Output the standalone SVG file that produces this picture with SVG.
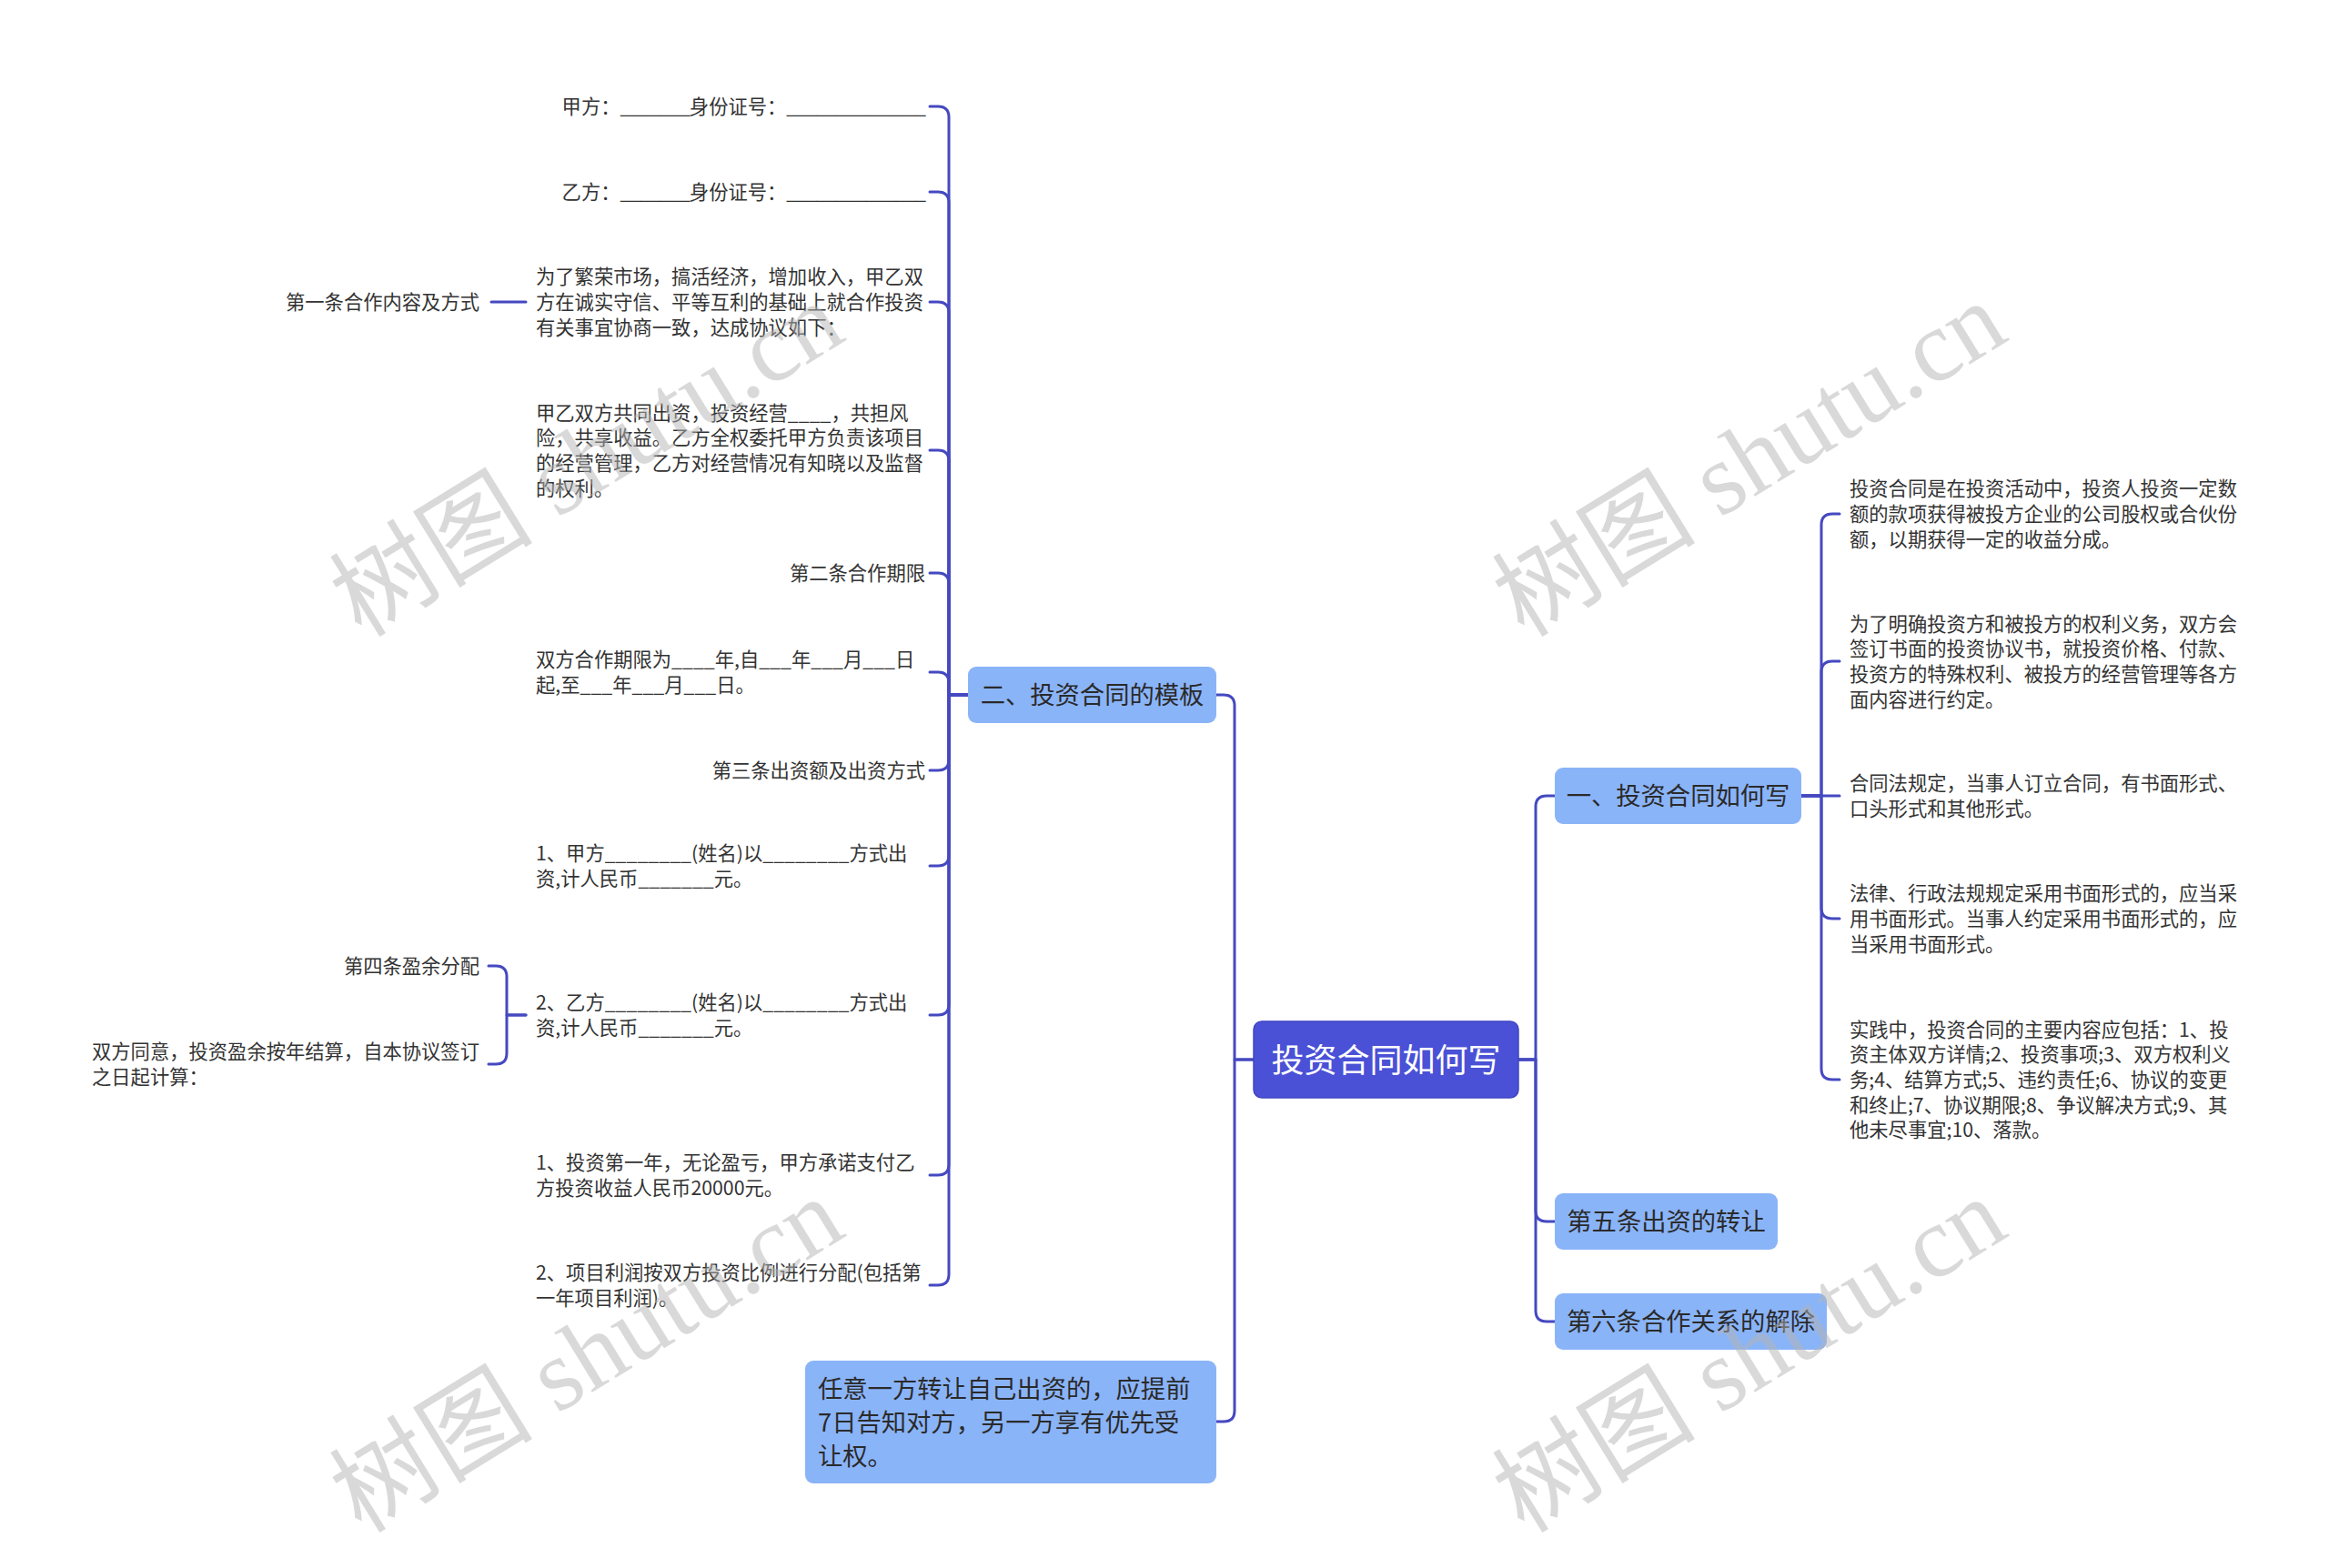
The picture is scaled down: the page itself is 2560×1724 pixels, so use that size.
<svg xmlns="http://www.w3.org/2000/svg" width="2560" height="1724" viewBox="0 0 2560 1724">
<style>
.leaf{font-family:'Noto Sans CJK SC','Liberation Sans',sans-serif;font-size:21.3px;fill:#333}
.mid{font-family:'Noto Sans CJK SC','Liberation Sans',sans-serif;font-size:27.3px;fill:#2a2a2a}
.root{font-family:'Noto Sans CJK SC','Liberation Sans',sans-serif;font-size:36px;fill:#fff}
.box{fill:#8AB4F8}
.rootbox{fill:#4A51D6;stroke:#3F45C2;stroke-width:1.5}
.conn path{fill:none;stroke:#4549C0;stroke-width:3;stroke-linecap:round;stroke-linejoin:round}
.wm{font-family:'Liberation Serif','Noto Sans CJK SC',serif;font-size:112px;fill:#b4b4b4;opacity:0.5}
.e{text-anchor:end}
.m{text-anchor:middle}
.u{letter-spacing:-1px}
</style>
<rect width="2560" height="1724" fill="#fff"/>

<g id="connectors" class="conn">
<path d="M1064 764 H1043 V129 Q1043 117 1031 117 H1022"/>
<path d="M1064 764 H1043 V223 Q1043 211 1031 211 H1022"/>
<path d="M1064 764 H1043 V344 Q1043 332 1031 332 H1022"/>
<path d="M1064 764 H1043 V507 Q1043 495 1031 495 H1022"/>
<path d="M1064 764 H1043 V642 Q1043 630 1031 630 H1022"/>
<path d="M1064 764 H1043 V751 Q1043 739 1031 739 H1022"/>
<path d="M1064 764 H1043 V835 Q1043 847 1031 847 H1022"/>
<path d="M1064 764 H1043 V940 Q1043 952 1031 952 H1022"/>
<path d="M1064 764 H1043 V1104 Q1043 1116 1031 1116 H1022"/>
<path d="M1064 764 H1043 V1280 Q1043 1292 1031 1292 H1022"/>
<path d="M1064 764 H1043 V1401 Q1043 1413 1031 1413 H1022"/>
<path d="M1378 1165 H1357 V776 Q1357 764 1345 764 H1337"/>
<path d="M1378 1165 H1357 V1551 Q1357 1563 1345 1563 H1337"/>
<path d="M1669 1165 H1688 V887 Q1688 875 1700 875 H1709"/>
<path d="M1669 1165 H1688 V1331 Q1688 1343 1700 1343 H1709"/>
<path d="M1669 1165 H1688 V1441 Q1688 1453 1700 1453 H1709"/>
<path d="M1980 875 H2002 V577 Q2002 565 2014 565 H2022"/>
<path d="M1980 875 H2002 V739 Q2002 727 2014 727 H2022"/>
<path d="M1980 875 H2022"/>
<path d="M1980 875 H2002 V998 Q2002 1010 2014 1010 H2022"/>
<path d="M1980 875 H2002 V1175 Q2002 1187 2014 1187 H2022"/>
<path d="M578 1116 H557 V1074 Q557 1062 545 1062 H537"/>
<path d="M578 1116 H557 V1158 Q557 1170 545 1170 H537"/>
<path d="M578 332 H540"/>
</g>

<g id="root">
<rect class="rootbox" x="1378" y="1123" width="291" height="84" rx="9"/>
<text class="root m" x="1523.5" y="1178.5">投资合同如何写</text>
</g>

<g id="n-template">
<rect class="box" x="1064" y="733" width="273" height="62" rx="9"/>
<text class="mid m" x="1200.5" y="774.4">二、投资合同的模板</text>
</g>

<g id="n-transfer-note">
<rect class="box" x="885" y="1496" width="452" height="135" rx="9"/>
<text class="mid" x="899" y="1537.4">任意一方转让自己出资的，应提前</text>
<text class="mid" x="899" y="1574.4">7日告知对方，另一方享有优先受</text>
<text class="mid" x="899" y="1611.4">让权。</text>
</g>

<g id="n-how">
<rect class="box" x="1709" y="844" width="271" height="62" rx="9"/>
<text class="mid m" x="1844.5" y="885.4">一、投资合同如何写</text>
</g>

<g id="n-art5">
<rect class="box" x="1709" y="1312" width="245" height="62" rx="9"/>
<text class="mid m" x="1831.5" y="1353.4">第五条出资的转让</text>
</g>

<g id="n-art6">
<rect class="box" x="1709" y="1422" width="299" height="62" rx="9"/>
<text class="mid m" x="1858.5" y="1463.4">第六条合作关系的解除</text>
</g>

<g id="l-jia"><text class="leaf e" x="1017" y="125">甲方：<tspan class="u">_______</tspan>身份证号：<tspan class="u">______________</tspan></text></g>
<g id="l-yi"><text class="leaf e" x="1017" y="219">乙方：<tspan class="u">_______</tspan>身份证号：<tspan class="u">______________</tspan></text></g>
<g id="l-intro">
<text class="leaf" x="589" y="312.3">为了繁荣市场，搞活经济，增加收入，甲乙双</text>
<text class="leaf" x="589" y="340">方在诚实守信、平等互利的基础上就合作投资</text>
<text class="leaf" x="589" y="367.7">有关事宜协商一致，达成协议如下：</text>
</g>
<g id="l-art1"><text class="leaf e" x="527" y="340">第一条合作内容及方式</text></g>
<g id="l-joint">
<text class="leaf" x="589" y="461.5">甲乙双方共同出资，投资经营____，共担风</text>
<text class="leaf" x="589" y="489.2">险，共享收益。乙方全权委托甲方负责该项目</text>
<text class="leaf" x="589" y="516.9">的经营管理，乙方对经营情况有知晓以及监督</text>
<text class="leaf" x="589" y="544.6">的权利。</text>
</g>
<g id="l-art2"><text class="leaf e" x="1017" y="638">第二条合作期限</text></g>
<g id="l-term">
<text class="leaf" x="589" y="733.2">双方合作期限为____年,自___年___月___日</text>
<text class="leaf" x="589" y="760.9">起,至___年___月___日。</text>
</g>
<g id="l-art3"><text class="leaf e" x="1017" y="855">第三条出资额及出资方式</text></g>
<g id="l-pay1">
<text class="leaf" x="589" y="946.2">1、甲方________(姓名)以________方式出</text>
<text class="leaf" x="589" y="973.9">资,计人民币_______元。</text>
</g>
<g id="l-pay2">
<text class="leaf" x="589" y="1110.2">2、乙方________(姓名)以________方式出</text>
<text class="leaf" x="589" y="1137.9">资,计人民币_______元。</text>
</g>
<g id="l-art4"><text class="leaf e" x="527" y="1070">第四条盈余分配</text></g>
<g id="l-settle">
<text class="leaf" x="101" y="1164.2">双方同意，投资盈余按年结算，自本协议签订</text>
<text class="leaf" x="101" y="1191.9">之日起计算：</text>
</g>
<g id="l-first">
<text class="leaf" x="589" y="1286.2">1、投资第一年，无论盈亏，甲方承诺支付乙</text>
<text class="leaf" x="589" y="1313.9">方投资收益人民币20000元。</text>
</g>
<g id="l-profit">
<text class="leaf" x="589" y="1407.2">2、项目利润按双方投资比例进行分配(包括第</text>
<text class="leaf" x="589" y="1434.9">一年项目利润)。</text>
</g>

<g id="r-def">
<text class="leaf" x="2033" y="545.3">投资合同是在投资活动中，投资人投资一定数</text>
<text class="leaf" x="2033" y="573">额的款项获得被投方企业的公司股权或合伙份</text>
<text class="leaf" x="2033" y="600.7">额，以期获得一定的收益分成。</text>
</g>
<g id="r-purpose">
<text class="leaf" x="2033" y="693.5">为了明确投资方和被投方的权利义务，双方会</text>
<text class="leaf" x="2033" y="721.2">签订书面的投资协议书，就投资价格、付款、</text>
<text class="leaf" x="2033" y="748.9">投资方的特殊权利、被投方的经营管理等各方</text>
<text class="leaf" x="2033" y="776.6">面内容进行约定。</text>
</g>
<g id="r-law">
<text class="leaf" x="2033" y="869.2">合同法规定，当事人订立合同，有书面形式、</text>
<text class="leaf" x="2033" y="896.9">口头形式和其他形式。</text>
</g>
<g id="r-written">
<text class="leaf" x="2033" y="990.3">法律、行政法规规定采用书面形式的，应当采</text>
<text class="leaf" x="2033" y="1018">用书面形式。当事人约定采用书面形式的，应</text>
<text class="leaf" x="2033" y="1045.7">当采用书面形式。</text>
</g>
<g id="r-content">
<text class="leaf" x="2033" y="1139.6">实践中，投资合同的主要内容应包括：1、投</text>
<text class="leaf" x="2033" y="1167.3">资主体双方详情;2、投资事项;3、双方权利义</text>
<text class="leaf" x="2033" y="1195">务;4、结算方式;5、违约责任;6、协议的变更</text>
<text class="leaf" x="2033" y="1222.7">和终止;7、协议期限;8、争议解决方式;9、其</text>
<text class="leaf" x="2033" y="1250.4">他未尽事宜;10、落款。</text>
</g>

<g id="watermarks">
<text class="wm m" transform="translate(645 505) rotate(-31.6)" y="38">树图 shutu.cn</text>
<text class="wm m" transform="translate(1923 505) rotate(-31.6)" y="38">树图 shutu.cn</text>
<text class="wm m" transform="translate(645 1490) rotate(-31.6)" y="38">树图 shutu.cn</text>
<text class="wm m" transform="translate(1923 1490) rotate(-31.6)" y="38">树图 shutu.cn</text>
</g>
</svg>
